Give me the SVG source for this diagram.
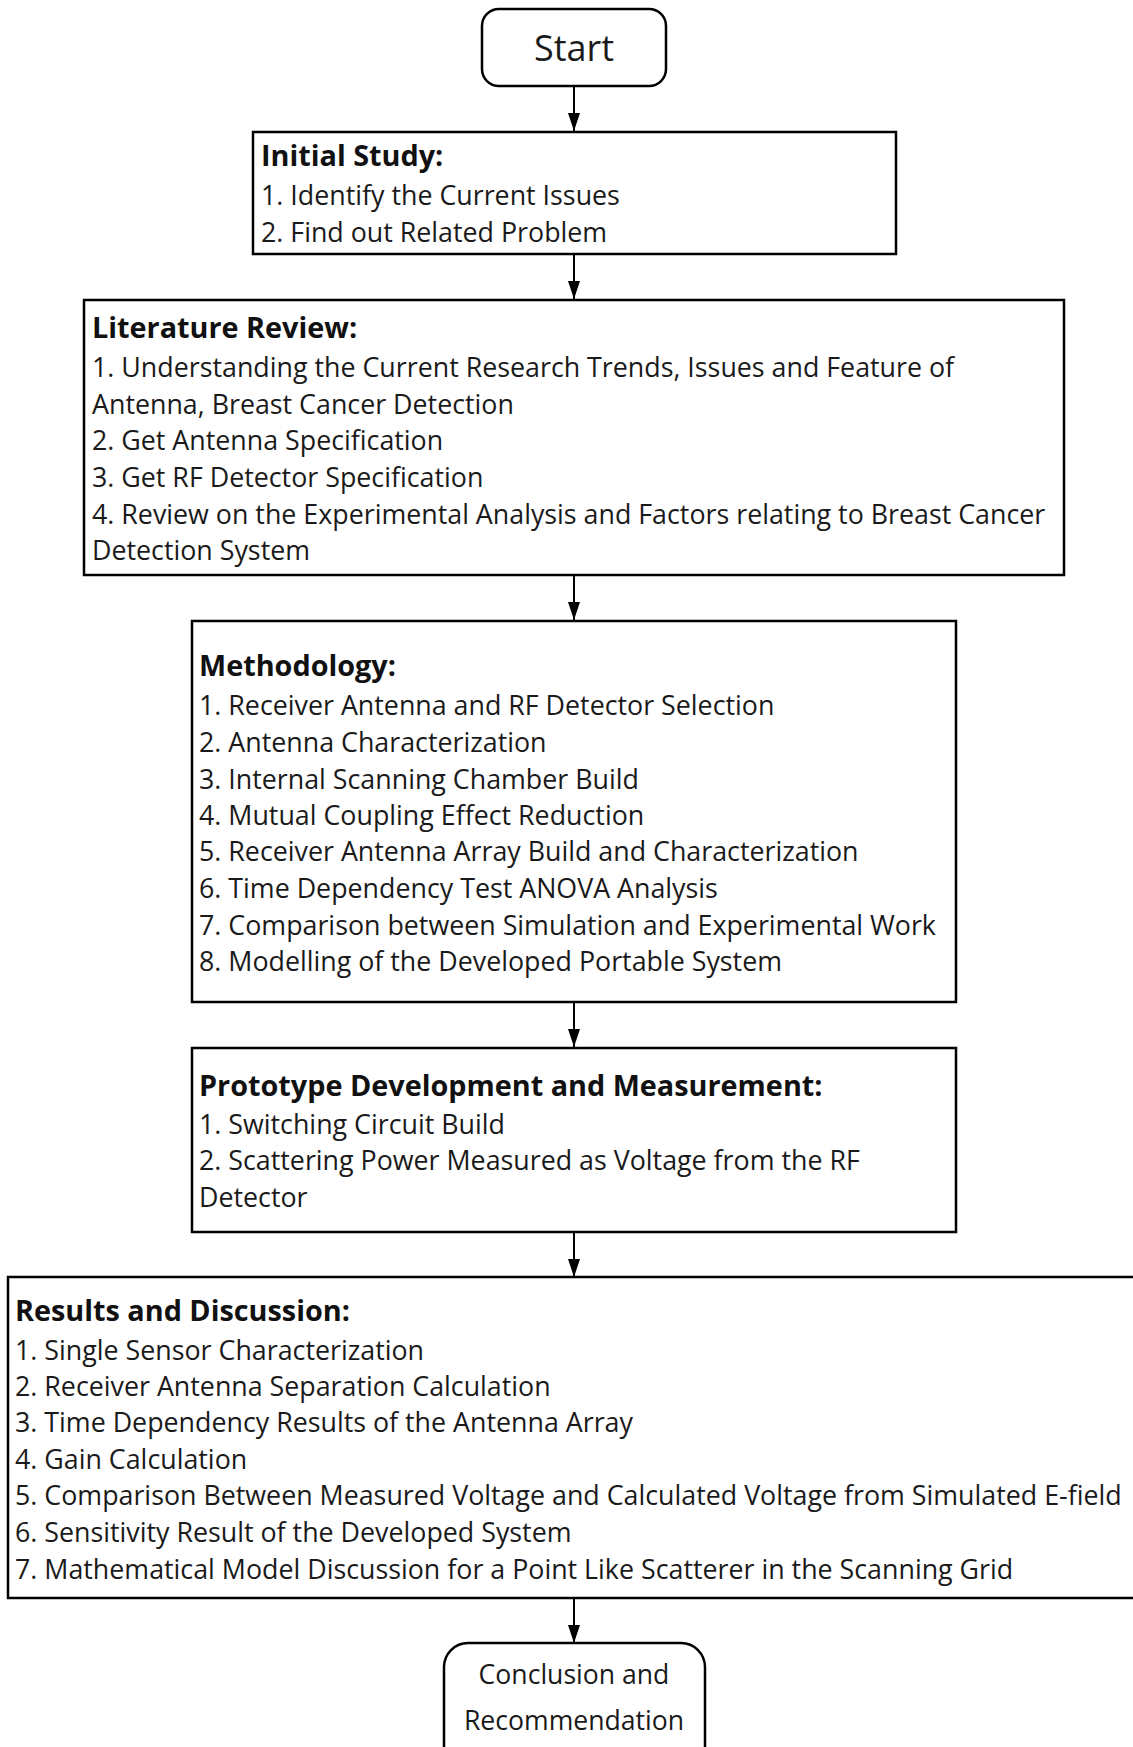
<svg xmlns="http://www.w3.org/2000/svg" width="1133" height="1747" viewBox="0 0 1133 1747">
<defs>
<marker id="ah" markerWidth="18" markerHeight="12" refX="18" refY="6" orient="auto" markerUnits="userSpaceOnUse" viewBox="0 0 18 12">
<path d="M0,0 L18,6 L0,12 Z" fill="#000"/>
</marker>
<style>
.box{fill:#fff;stroke:#000;stroke-width:2.5}
.t{font-family:"Open Sans","Noto Sans","Liberation Sans",sans-serif;font-size:26.8px;fill:#1a1a1a}
.h{font-family:"Open Sans","Noto Sans","Liberation Sans",sans-serif;font-size:28.8px;font-weight:bold;fill:#111}
.c{font-family:"Open Sans","Noto Sans","Liberation Sans",sans-serif;fill:#1a1a1a;text-anchor:middle}
.ln{stroke:#000;stroke-width:2;fill:none;marker-end:url(#ah)}
</style>
</defs>
<rect width="1133" height="1747" fill="#fff"/>
<g id="connectors">
<line class="ln" x1="574" y1="86" x2="574" y2="131"/>
<line class="ln" x1="574" y1="254" x2="574" y2="299"/>
<line class="ln" x1="574" y1="575" x2="574" y2="620"/>
<line class="ln" x1="574" y1="1002" x2="574" y2="1047"/>
<line class="ln" x1="574" y1="1232" x2="574" y2="1277"/>
<line class="ln" x1="574" y1="1598" x2="574" y2="1643"/>
</g>
<g id="start">
<rect class="box" x="482" y="9" width="184" height="77" rx="17"/>
<text class="c" x="574" y="61" font-size="36">Start</text>
</g>
<g id="initial-study">
<rect class="box" x="253" y="132" width="643" height="122"/>
<text class="h" x="261" y="166">Initial Study:</text>
<text class="t" x="261" y="205">1. Identify the Current Issues</text>
<text class="t" x="261" y="242">2. Find out Related Problem</text>
</g>
<g id="literature-review">
<rect class="box" x="84" y="300" width="980" height="275"/>
<text class="h" x="92" y="338">Literature Review:</text>
<text class="t" x="92" y="376.5">1. Understanding the Current Research Trends, Issues and Feature of</text>
<text class="t" x="92" y="413.5">Antenna, Breast Cancer Detection</text>
<text class="t" x="92" y="449.5">2. Get Antenna Specification</text>
<text class="t" x="92" y="486.5">3. Get RF Detector Specification</text>
<text class="t" x="92" y="523.5">4. Review on the Experimental Analysis and Factors relating to Breast Cancer</text>
<text class="t" x="92" y="559.5">Detection System</text>
</g>
<g id="methodology">
<rect class="box" x="192" y="621" width="764" height="381"/>
<text class="h" x="199" y="676">Methodology:</text>
<text class="t" x="199" y="714.5">1. Receiver Antenna and RF Detector Selection</text>
<text class="t" x="199" y="751.5">2. Antenna Characterization</text>
<text class="t" x="199" y="788.5">3. Internal Scanning Chamber Build</text>
<text class="t" x="199" y="824.5">4. Mutual Coupling Effect Reduction</text>
<text class="t" x="199" y="860.5">5. Receiver Antenna Array Build and Characterization</text>
<text class="t" x="199" y="897.5">6. Time Dependency Test ANOVA Analysis</text>
<text class="t" x="199" y="934.5">7. Comparison between Simulation and Experimental Work</text>
<text class="t" x="199" y="970.5">8. Modelling of the Developed Portable System</text>
</g>
<g id="prototype">
<rect class="box" x="192" y="1048" width="764" height="184"/>
<text class="h" x="199" y="1096">Prototype Development and Measurement:</text>
<text class="t" x="199" y="1133.5">1. Switching Circuit Build</text>
<text class="t" x="199" y="1169.5">2. Scattering Power Measured as Voltage from the RF</text>
<text class="t" x="199" y="1206.5">Detector</text>
</g>
<g id="results">
<rect class="box" x="8" y="1277" width="1140" height="321"/>
<text class="h" x="15" y="1321">Results and Discussion:</text>
<text class="t" x="15" y="1359.5">1. Single Sensor Characterization</text>
<text class="t" x="15" y="1395.5">2. Receiver Antenna Separation Calculation</text>
<text class="t" x="15" y="1431.5">3. Time Dependency Results of the Antenna Array</text>
<text class="t" x="15" y="1468.5">4. Gain Calculation</text>
<text class="t" x="15" y="1504.5">5. Comparison Between Measured Voltage and Calculated Voltage from Simulated E-field</text>
<text class="t" x="15" y="1541.5">6. Sensitivity Result of the Developed System</text>
<text class="t" x="15" y="1578.5">7. Mathematical Model Discussion for a Point Like Scatterer in the Scanning Grid</text>
</g>
<g id="conclusion">
<rect class="box" x="444" y="1643" width="261" height="130" rx="24"/>
<text class="c" x="574" y="1684" font-size="26.6">Conclusion and</text>
<text class="c" x="574" y="1730" font-size="26.6">Recommendation</text>
</g>
</svg>
